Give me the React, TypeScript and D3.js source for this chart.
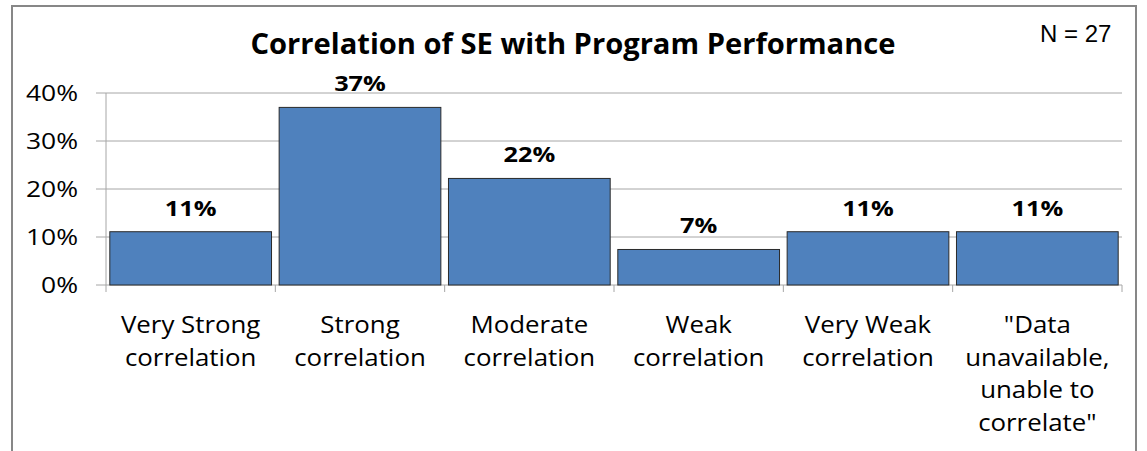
import React from "react";
import * as d3 from "d3";

const categories: string[][] = [
  ["Very Strong", "correlation"],
  ["Strong", "correlation"],
  ["Moderate", "correlation"],
  ["Weak", "correlation"],
  ["Very Weak", "correlation"],
  ['"Data', "unavailable,", "unable to", 'correlate"'],
];
const values: number[] = [0.111, 0.37, 0.222, 0.074, 0.111, 0.111];
const valueLabels: string[] = ["11%", "37%", "22%", "7%", "11%", "11%"];
const yTicks: number[] = [0, 0.1, 0.2, 0.3, 0.4];
const titleText = "Correlation of SE with Program Performance";
const noteText = "N = 27";

const W = 1147;
const H = 451;
const plotLeft = 106;
const plotRight = 1122;
const plotTop = 93;
const plotBottom = 285;
const FONT = "'Open Sans', 'DejaVu Sans', sans-serif";

export default function App() {
  const x = d3
    .scaleBand<number>()
    .domain(d3.range(categories.length))
    .range([plotLeft, plotRight])
    .paddingInner(0.045)
    .paddingOuter(0.0225);
  const y = d3.scaleLinear().domain([0, 0.4]).range([plotBottom, plotTop]);
  const step = x.step();
  const boundaries = d3.range(categories.length + 1).map((i) => plotLeft + i * step);
  const fmt = d3.format(".0%");

  return (
    <svg
      width={W}
      height={H}
      style={{ position: "absolute", left: 0, top: 0, background: "#fff" }}
    >
      <rect x={0} y={0} width={W} height={H} fill="#fff" />
      <rect x={12} y={6} width={1124} height={470} fill="#fff" stroke="#878787" strokeWidth={2} />

      {/* gridlines */}
      {yTicks.map((t) => (
        <line key={t} x1={96} x2={plotRight} y1={y(t)} y2={y(t)} stroke="#a6a6a6" strokeWidth={1} />
      ))}
      {/* y axis */}
      <line x1={plotLeft} x2={plotLeft} y1={plotTop} y2={plotBottom} stroke="#a6a6a6" strokeWidth={1} />
      {/* x ticks */}
      {boundaries.map((bx, i) => (
        <line key={i} x1={bx} x2={bx} y1={plotBottom} y2={plotBottom + 7} stroke="#a6a6a6" strokeWidth={1} />
      ))}

      {/* bars */}
      {values.map((v, i) => (
        <rect
          key={i}
          x={x(i)!}
          y={y(v)}
          width={x.bandwidth()}
          height={y(0) - y(v)}
          fill="#4F81BD"
          stroke="#2a2a2a"
          strokeWidth={1}
        />
      ))}

      {/* y tick labels */}
      {yTicks.map((t) => (
        <text
          key={t}
          transform={`translate(78,${y(t) + 8}) scale(1.26,1)`}
          textAnchor="end"
          fontFamily={FONT}
          fontSize={21}
          fill="#000"
        >
          {fmt(t)}
        </text>
      ))}

      {/* value labels */}
      {values.map((v, i) => (
        <text
          key={i}
          transform={`translate(${x(i)! + x.bandwidth() / 2},${y(v) - 16}) scale(1.15,1)`}
          textAnchor="middle"
          fontFamily={FONT}
          fontWeight="bold"
          fontSize={22}
          fill="#000"
        >
          {valueLabels[i]}
        </text>
      ))}

      {/* category labels */}
      {categories.map((lines, i) =>
        lines.map((ln, j) => (
          <text
            key={`${i}-${j}`}
            transform={`translate(${x(i)! + x.bandwidth() / 2},${333 + j * 32.7}) scale(1.1,1)`}
            textAnchor="middle"
            fontFamily={FONT}
            fontSize={23.5}
            fill="#000"
          >
            {ln}
          </text>
        ))
      )}

      {/* title */}
      <text
        x={573}
        y={54}
        textAnchor="middle"
        fontFamily={FONT}
        fontWeight="bold"
        fontSize={29}
        textLength={645}
        lengthAdjust="spacingAndGlyphs"
        fill="#000"
      >
        {titleText}
      </text>
      <text x={1040} y={42} fontFamily="'Liberation Sans', Arial, sans-serif" fontSize={24} fill="#000">
        {noteText}
      </text>
    </svg>
  );
}
